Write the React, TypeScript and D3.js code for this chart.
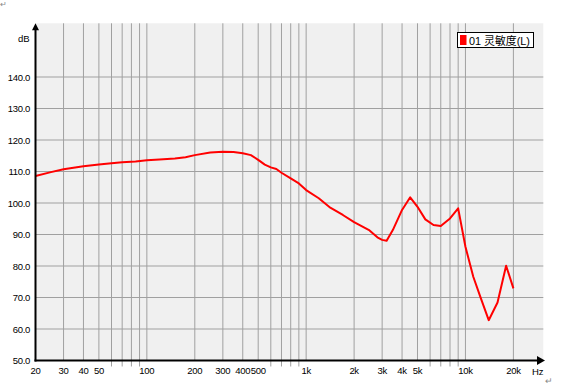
import React from "react";
import * as d3 from "d3";

const freqs = [20, 25, 30, 40, 50, 60, 70, 85, 100, 120, 150, 175, 200, 250, 300, 350, 400, 450, 500, 550, 600, 650, 700, 800, 900, 1000, 1200, 1400, 1700, 2000, 2500, 2800, 3000, 3200, 3500, 4000, 4500, 5000, 5600, 6300, 7000, 8000, 9000, 10000, 11200, 12500, 14000, 15900, 18000, 20000];
const levels = [108.6, 109.8, 110.7, 111.7, 112.2, 112.6, 112.9, 113.2, 113.6, 113.8, 114.1, 114.5, 115.2, 116.0, 116.3, 116.2, 115.8, 115.2, 113.7, 112.2, 111.3, 110.8, 109.6, 107.8, 106.2, 104.1, 101.5, 98.7, 96.2, 93.9, 91.3, 89.1, 88.3, 88.0, 91.4, 97.8, 101.8, 98.8, 94.8, 93.0, 92.7, 95.1, 98.3, 86.1, 76.6, 69.7, 62.8, 68.4, 80.1, 72.9];

const yTicks = [50, 60, 70, 80, 90, 100, 110, 120, 130, 140];
const xGrid = [30, 40, 50, 60, 70, 80, 90, 100, 200, 300, 400, 500, 600, 700, 800, 900, 1000, 2000, 3000, 4000, 5000, 6000, 7000, 8000, 9000, 10000, 20000];
const xLabels: [number, string][] = [
  [20, "20"], [30, "30"], [40, "40"], [50, "50"], [100, "100"], [200, "200"], [300, "300"], [400, "400"], [500, "500"],
  [1000, "1k"], [2000, "2k"], [3000, "3k"], [4000, "4k"], [5000, "5k"], [10000, "10k"], [20000, "20k"],
];
const legendLabel = "01 灵敏度(L)";

export default function App() {
  const W = 561, H = 386;
  const left = 35.5, right = 543.3, top = 23.3, bottom = 360.5;
  const x = d3.scaleLog().domain([20, 20000]).range([left, left + 3 * 159.3]);
  const y = d3.scaleLinear().domain([50, 140]).range([bottom, bottom - 90 * 3.15]);
  const labeled = new Set(xLabels.map((d) => d[0]));
  const line = d3.line<number>().x((_, i) => x(freqs[i])).y((d) => y(d)).curve(d3.curveLinear);
  const font = "'Liberation Sans', Arial, sans-serif";
  return (
    <svg width={W} height={H} style={{ position: "absolute", left: 0, top: 0, background: "#fff" }}>
      <rect x={left} y={top} width={right - left} height={bottom - top} fill="#f0f0f0" />
      {yTicks.filter((v) => v > 50).map((v) => (
        <line key={v} x1={left} x2={right} y1={y(v)} y2={y(v)} stroke="#a0a0a0" strokeWidth={1} />
      ))}
      {xGrid.map((f) => (
        <line key={f} x1={x(f)} x2={x(f)} y1={top} y2={labeled.has(f) ? bottom : bottom + 6} stroke="#a0a0a0" strokeWidth={1} />
      ))}
      <path d={line(levels) || ""} fill="none" stroke="#ff0000" strokeWidth={2} strokeLinejoin="round" />
      <line x1={left} x2={left} y1={bottom + 1} y2={top + 4} stroke="#000" strokeWidth={2} />
      <path d={`M${left - 3.5},${top + 7} L${left},${top} L${left + 3.5},${top + 7} Z`} fill="#000" />
      <line x1={left - 1} x2={538} y1={bottom} y2={bottom} stroke="#000" strokeWidth={2} />
      <path d={`M537,${bottom - 4.5} L545,${bottom} L537,${bottom + 4.5} Z`} fill="#000" />
      {yTicks.map((v) => (
        <text key={v} x={30} y={y(v) + 3.5} fontSize={9.5} fontFamily={font} textAnchor="end" fill="#000" letterSpacing={-0.3}>
          {v.toFixed(1)}
        </text>
      ))}
      <text x={29.5} y={42} fontSize={9.5} fontFamily={font} textAnchor="end">dB</text>
      {xLabels.map(([f, s]) => (
        <text key={f} x={x(f)} y={374} fontSize={9.5} fontFamily={font} textAnchor="middle" letterSpacing={-0.3}>
          {s}
        </text>
      ))}
      <text x={532} y={374.5} fontSize={9.5} fontFamily={font}>Hz</text>
      <rect x={457.5} y={32.5} width={76} height={15} fill="#fff" stroke="#000" strokeWidth={1} />
      <rect x={460} y={35} width={6.5} height={10} fill="#ff0000" />
      <text x={469} y={44.5} fontSize={11} fontFamily="'Liberation Sans', 'Noto Sans CJK SC', sans-serif" textLength={61} lengthAdjust="spacingAndGlyphs">
        {legendLabel}
      </text>
      <text x={0} y={7} fontSize={8} fill="#888" fontFamily={font}>↵</text>
      <text x={545} y={384} fontSize={9} fill="#888" fontFamily={font}>↵</text>
    </svg>
  );
}
